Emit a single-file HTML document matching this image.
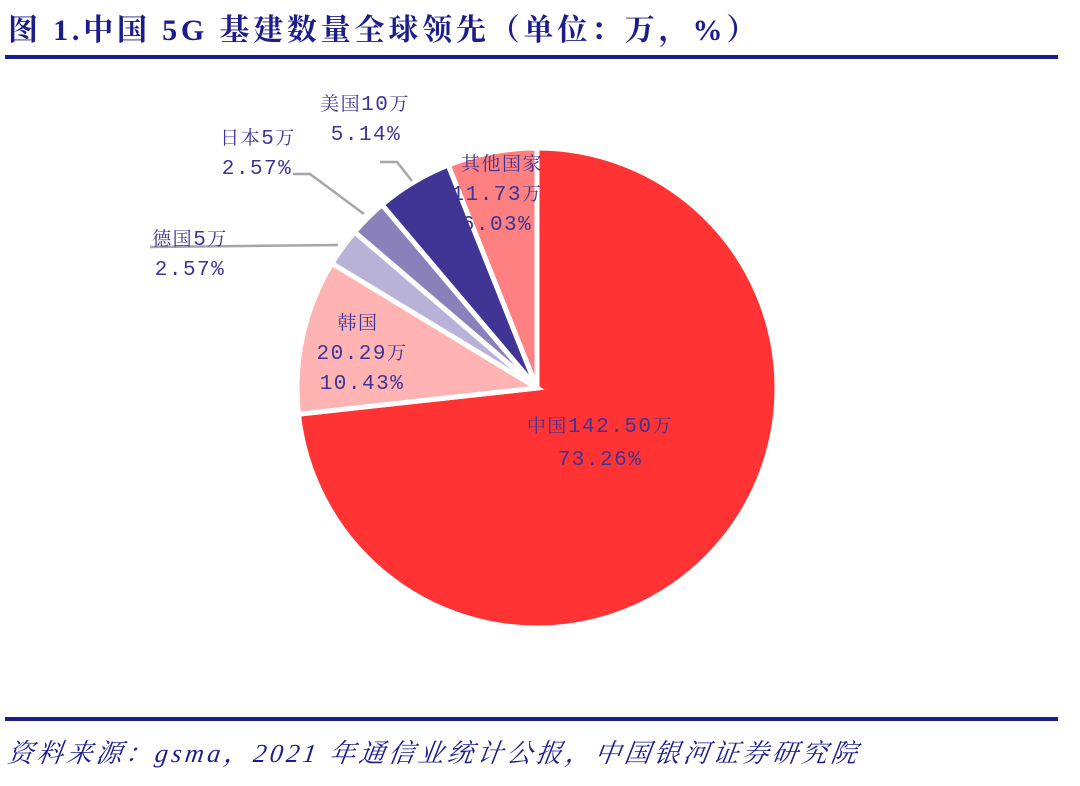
<!DOCTYPE html>
<html><head><meta charset="utf-8">
<style>
html,body{margin:0;padding:0;background:#fff;}
body{width:1080px;height:786px;position:relative;overflow:hidden;}
.t{position:absolute;left:8px;top:5px;font:bold 30px "Liberation Serif","Noto Serif CJK SC",serif;color:#1c1c8c;white-space:nowrap;letter-spacing:3.8px}
.f{position:absolute;left:8px;top:733px;font:italic 26px "Liberation Serif","Noto Serif CJK SC",serif;color:#1c1c8c;white-space:nowrap;letter-spacing:3.5px;transform:skewX(-8deg);transform-origin:left}
svg text{font-family:"Liberation Mono","Noto Serif CJK SC",serif;font-size:19px;fill:#3b3597;text-anchor:middle;letter-spacing:1.5px}
svg text tspan.n{font-size:21px}
</style></head><body>
<div class="t">图 1.中国 5G 基建数量全球领先（单位：万，%）</div>
<div style="position:absolute;left:5px;top:55px;width:1053px;height:4px;background:#1c1c8c"></div>
<div style="position:absolute;left:5px;top:717px;width:1053px;height:4px;background:#1c1c8c"></div>
<div class="f">资料来源：gsma，2021 年通信业统计公报，中国银河证券研究院</div>
<svg width="1080" height="786" style="position:absolute;left:0;top:0">
<g id="pie" stroke="#fff" stroke-width="5" stroke-linejoin="miter"></g>
<g stroke="#a6a6a6" stroke-width="2.5" fill="none">
<polyline points="380,162 397,162 412,181"/>
<polyline points="293,174 310,174 364,214"/>
<polyline points="150,247 338,245"/>
</g>
<text x="365" y="110">美国<tspan class="n">10</tspan>万</text><text x="366" y="140"><tspan class="n">5.14%</tspan></text>
<text x="258" y="144">日本<tspan class="n">5</tspan>万</text><text x="257" y="174"><tspan class="n">2.57%</tspan></text>
<text x="190" y="245">德国<tspan class="n">5</tspan>万</text><text x="190" y="275"><tspan class="n">2.57%</tspan></text>
<text x="502" y="170">其他国家</text><text x="497" y="200"><tspan class="n">11.73</tspan>万</text><text x="497" y="230"><tspan class="n">6.03%</tspan></text>
<text x="358" y="329">韩国</text><text x="362" y="359"><tspan class="n">20.29</tspan>万</text><text x="362" y="389"><tspan class="n">10.43%</tspan></text>
<text x="600" y="432">中国<tspan class="n">142.50</tspan>万</text><text x="600" y="465"><tspan class="n">73.26%</tspan></text>
</svg>
<script>
var cx=537,cy=388,r=240;
var d=[[73.26,"#ff3333"],[10.43,"#ffb3b3"],[2.57,"#b8b2d8"],[2.57,"#8a80ba"],[5.14,"#403594"],[6.03,"#ff8080"]];
var tot=0;d.forEach(function(x){tot+=x[0]});
var a=0,g=document.getElementById("pie"),s="";
d.forEach(function(x){
 var a2=a+x[0]/tot*2*Math.PI;
 var x1=cx+r*Math.sin(a),y1=cy-r*Math.cos(a),x2=cx+r*Math.sin(a2),y2=cy-r*Math.cos(a2);
 var l=(a2-a)>Math.PI?1:0;
 s+='<path fill="'+x[1]+'" d="M'+cx+','+cy+' L'+x1+','+y1+' A'+r+','+r+' 0 '+l+' 1 '+x2+','+y2+' Z"/>';
 a=a2;
});
g.innerHTML=s;
</script>
</body></html>
